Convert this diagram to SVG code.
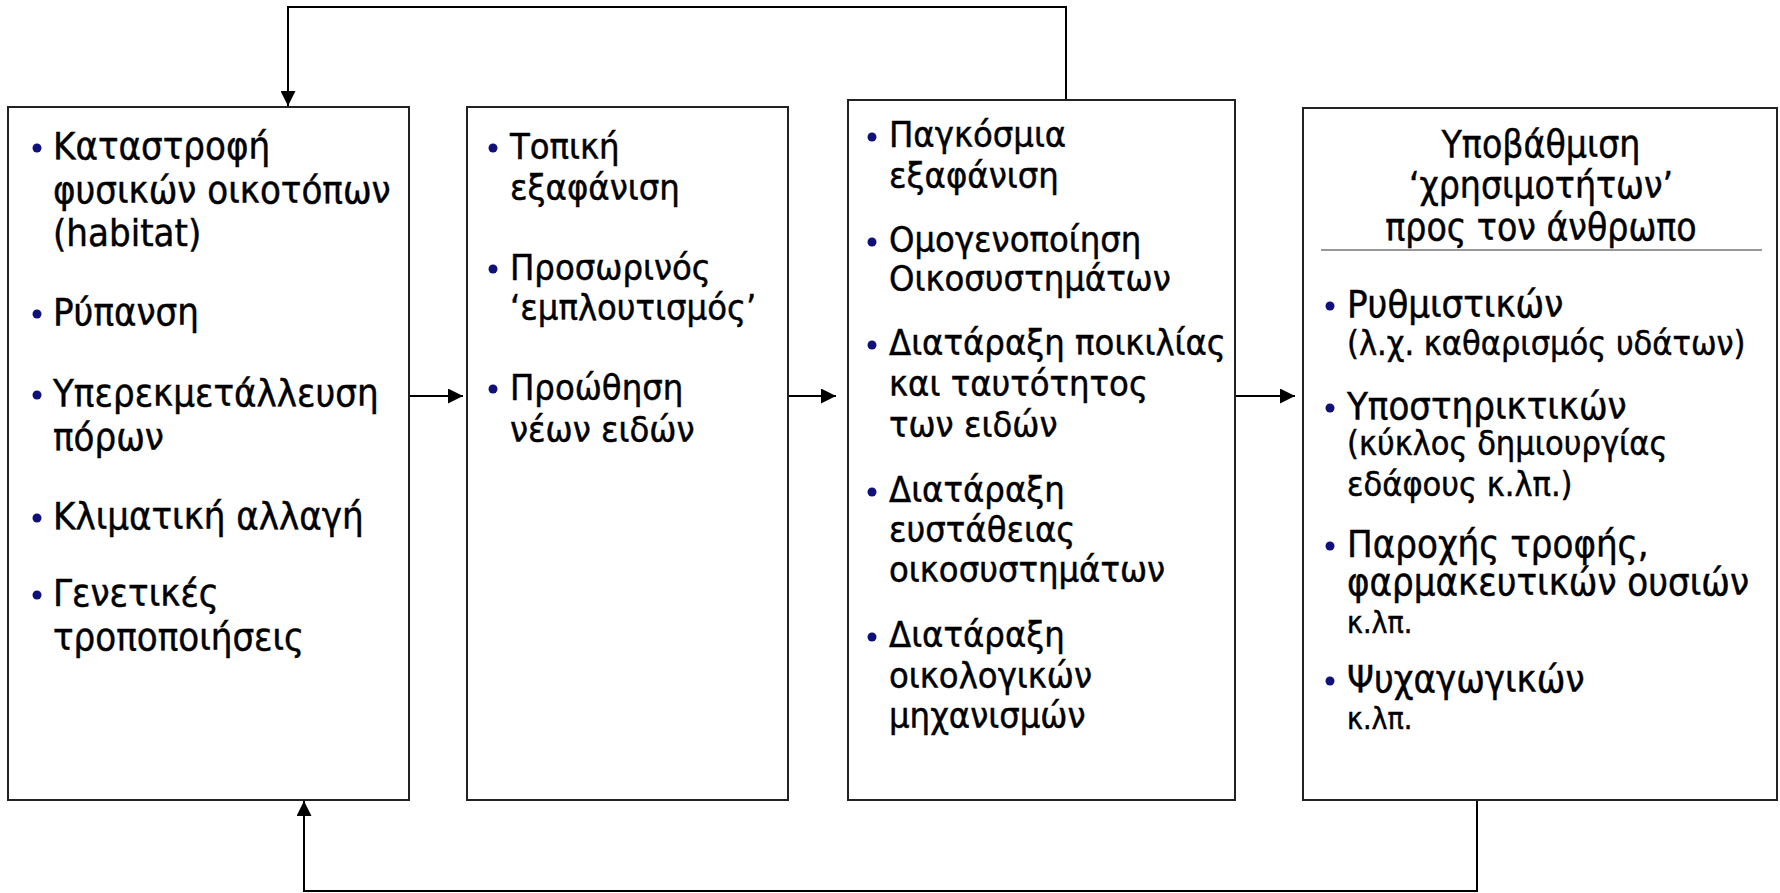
<svg xmlns="http://www.w3.org/2000/svg" width="1780" height="893" viewBox="0 0 1780 893">
<defs>
<marker id="ah" markerUnits="userSpaceOnUse" markerWidth="16" markerHeight="15" refX="15" refY="7.5" orient="auto">
<path d="M0,0 L15,7.5 L0,15 z" fill="#000"/>
</marker>
<style>
.box{fill:#fff;stroke:#222;stroke-width:2}
.t{font-family:"DejaVu Sans Condensed","DejaVu Sans",sans-serif;font-size:38px;fill:#000;stroke:#000;stroke-width:0.45}
.m{font-size:37px}
.n{font-size:36px}
.s{font-size:34px}
.xs{font-size:30px}
.b{fill:#10107a}
.c{fill:none;stroke:#000;stroke-width:2}
</style>
</defs>
<rect width="1780" height="893" fill="#fff"/>
<g id="connectors">
<path class="c" d="M1066,100 V7 H288 V106" marker-end="url(#ah)"/>
<path class="c" d="M1477,800 V891 H304 V801" marker-end="url(#ah)"/>
<path class="c" d="M409,396 H463" marker-end="url(#ah)"/>
<path class="c" d="M788,396 H836" marker-end="url(#ah)"/>
<path class="c" d="M1235,396 H1295" marker-end="url(#ah)"/>
</g>
<g id="box1">
<rect class="box" x="8" y="107" width="401" height="693"/>
<g class="b"><circle cx="37" cy="148" r="4.5"/><circle cx="37" cy="314" r="4.5"/><circle cx="37" cy="395" r="4.5"/><circle cx="37" cy="518" r="4.5"/><circle cx="37" cy="595" r="4.5"/></g>
<text class="t" x="53" y="159">Καταστροφή</text>
<text class="t" x="53" y="202.5">φυσικών οικοτόπων</text>
<text class="t" x="53" y="246">(habitat)</text>
<text class="t" x="53" y="325">Ρύπανση</text>
<text class="t" x="53" y="406">Υπερεκμετάλλευση</text>
<text class="t" x="53" y="449.5">πόρων</text>
<text class="t" x="53" y="529">Κλιματική αλλαγή</text>
<text class="t" x="53" y="606">Γενετικές</text>
<text class="t" x="53" y="649.5">τροποποιήσεις</text>
</g>
<g id="box2">
<rect class="box" x="467" y="107" width="321" height="693"/>
<g class="b"><circle cx="493" cy="148" r="4.5"/><circle cx="493" cy="269" r="4.5"/><circle cx="493" cy="389" r="4.5"/></g>
<g class="t n">
<text x="510" y="159">Τοπική</text>
<text x="510" y="200">εξαφάνιση</text>
<text x="510" y="280">Προσωρινός</text>
<text x="510" y="320">‘εμπλουτισμός’</text>
<text x="510" y="400">Προώθηση</text>
<text x="510" y="442">νέων ειδών</text>
</g>
</g>
<g id="box3">
<rect class="box" x="848" y="100" width="387" height="700"/>
<g class="b"><circle cx="872" cy="137" r="4.5"/><circle cx="872" cy="242" r="4.5"/><circle cx="872" cy="345" r="4.5"/><circle cx="872" cy="492" r="4.5"/><circle cx="872" cy="637" r="4.5"/></g>
<g class="t n">
<text x="889" y="147">Παγκόσμια</text>
<text x="889" y="188">εξαφάνιση</text>
<text x="889" y="252">Ομογενοποίηση</text>
<text x="889" y="291">Οικοσυστημάτων</text>
<text x="889" y="355">Διατάραξη ποικιλίας</text>
<text x="889" y="396">και ταυτότητος</text>
<text x="889" y="437">των ειδών</text>
<text x="889" y="502">Διατάραξη</text>
<text x="889" y="542">ευστάθειας</text>
<text x="889" y="582">οικοσυστημάτων</text>
<text x="889" y="647">Διατάραξη</text>
<text x="889" y="688">οικολογικών</text>
<text x="889" y="728">μηχανισμών</text>
</g>
</g>
<g id="box4">
<rect class="box" x="1303" y="108" width="474" height="692"/>
<g class="t m" text-anchor="middle">
<text x="1541" y="157">Υποβάθμιση</text>
<text x="1541" y="198">‘χρησιμοτήτων’</text>
<text x="1541" y="240">προς τον άνθρωπο</text>
</g>
<line x1="1321" y1="250" x2="1762" y2="250" stroke="#333" stroke-width="1.2"/>
<g class="b"><circle cx="1330" cy="306" r="4.5"/><circle cx="1330" cy="408" r="4.5"/><circle cx="1330" cy="546" r="4.5"/><circle cx="1330" cy="681" r="4.5"/></g>
<text class="t" x="1347" y="317">Ρυθμιστικών</text>
<text class="t s" x="1347" y="355">(λ.χ. καθαρισμός υδάτων)</text>
<text class="t" x="1347" y="419">Υποστηρικτικών</text>
<text class="t s" x="1347" y="455">(κύκλος δημιουργίας</text>
<text class="t s" x="1347" y="496">εδάφους κ.λπ.)</text>
<text class="t" x="1347" y="557">Παροχής τροφής,</text>
<text class="t" x="1347" y="595">φαρμακευτικών ουσιών</text>
<text class="t xs" x="1347" y="633">κ.λπ.</text>
<text class="t" x="1347" y="692">Ψυχαγωγικών</text>
<text class="t xs" x="1347" y="729">κ.λπ.</text>
</g>
</svg>
